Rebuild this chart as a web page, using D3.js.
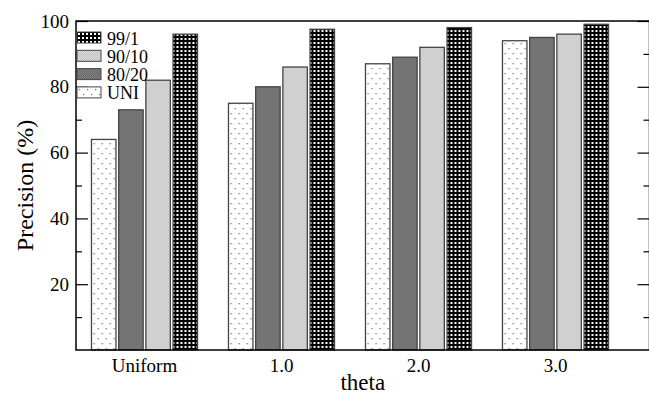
<!DOCTYPE html>
<html>
<head>
<meta charset="utf-8">
<script src="https://cdn.jsdelivr.net/npm/d3@7"></script>
<style>
  html, body { margin: 0; padding: 0; background: #fff; }
  svg { display: block; }
  text { font-family: "Liberation Serif", "Times New Roman", serif; fill: #000; }
</style>
</head>
<body>
<div id="chart"></div>
<script>
// Precision by theta for each traffic split
const categories = ["Uniform", "1.0", "2.0", "3.0"];
const seriesNames = ["UNI", "80/20", "90/10", "99/1"];
const uniValues = [64, 75, 87, 94];
const v8020Values = [73, 80, 89, 95];
const v9010Values = [82, 86, 92, 96];
const v991Values = [96, 97.5, 98, 99];
const yTicks = [20, 40, 60, 80, 100];
const legendOrder = ["99/1", "90/10", "80/20", "UNI"];

const series = [uniValues, v8020Values, v9010Values, v991Values];

const W = 649, H = 395;
const margin = { left: 76, top: 21, right: -0.5, bottom: 45 };
const plotW = W - margin.left - margin.right;
const plotH = H - margin.top - margin.bottom;
const groupStep = 137;

const svg = d3.select("#chart").append("svg")
  .attr("width", W).attr("height", H);

const defs = svg.append("defs");

// Fill patterns for the four series
function addPattern(id, w, h, draw) {
  const p = defs.append("pattern")
    .attr("id", id).attr("patternUnits", "userSpaceOnUse")
    .attr("width", w).attr("height", h);
  draw(p);
}
addPattern("pat-uni", 8, 10, p => {
  p.append("rect").attr("width", 8).attr("height", 10).attr("fill", "#fff");
  p.append("rect").attr("x", 2).attr("y", 2).attr("width", 1.3).attr("height", 1.3).attr("fill", "#777");
  p.append("rect").attr("x", 6).attr("y", 7).attr("width", 1.3).attr("height", 1.3).attr("fill", "#777");
});
addPattern("pat-8020", 2, 2, p => {
  p.append("rect").attr("width", 2).attr("height", 2).attr("fill", "#b0b0b0");
  p.append("rect").attr("x", 0).attr("y", 0).attr("width", 1).attr("height", 1).attr("fill", "#383838");
  p.append("rect").attr("x", 1).attr("y", 1).attr("width", 1).attr("height", 1).attr("fill", "#383838");
});
addPattern("pat-9010", 2, 2, p => {
  p.append("rect").attr("width", 2).attr("height", 2).attr("fill", "#fff");
  p.append("rect").attr("x", 0).attr("y", 0).attr("width", 1).attr("height", 1).attr("fill", "#a0a0a0");
  p.append("rect").attr("x", 1).attr("y", 1).attr("width", 1).attr("height", 1).attr("fill", "#a0a0a0");
});
addPattern("pat-991", 4, 4, p => {
  p.append("rect").attr("width", 4).attr("height", 4).attr("fill", "#000");
  p.append("rect").attr("x", 1).attr("y", 1).attr("width", 2).attr("height", 2).attr("fill", "#fff");
});
const fills = {
  "UNI": "url(#pat-uni)",
  "80/20": "url(#pat-8020)",
  "90/10": "url(#pat-9010)",
  "99/1": "url(#pat-991)"
};

const g = svg.append("g").attr("transform", `translate(${margin.left},${margin.top})`);

const x0 = d3.scaleBand().domain(categories)
  .range([0, groupStep * categories.length])
  .paddingInner(0.226).paddingOuter(0.113);
const x1 = d3.scaleBand().domain(seriesNames).range([0, x0.bandwidth()]).paddingInner(0.1);
const y = d3.scaleLinear().domain([0, 100]).range([plotH, 0]);

// Bars
categories.forEach((cat, ci) => {
  const grp = g.append("g").attr("transform", `translate(${x0(cat)},0)`);
  seriesNames.forEach((name, si) => {
    const v = series[si][ci];
    grp.append("rect")
      .attr("x", x1(name))
      .attr("y", y(v))
      .attr("width", x1.bandwidth())
      .attr("height", plotH - y(v))
      .attr("fill", fills[name])
      .attr("stroke", "#444")
      .attr("stroke-width", 1.3);
  });
});

// Frame
g.append("rect").attr("x", 0).attr("y", 0).attr("width", plotW).attr("height", plotH)
  .attr("fill", "none").attr("stroke", "#000").attr("stroke-width", 1.5);

// Y axes: major ticks inward, minor ticks between
const minorTicks = d3.range(10, 100, 20);
g.append("g").call(d3.axisRight(y).tickValues(yTicks).tickSize(12).tickFormat(""))
  .call(a => a.select(".domain").remove());
g.append("g").call(d3.axisRight(y).tickValues(minorTicks).tickSize(6).tickFormat(""))
  .call(a => a.select(".domain").remove());
g.append("g").attr("transform", `translate(${plotW},0)`)
  .call(d3.axisLeft(y).tickValues(yTicks).tickSize(12).tickFormat(""))
  .call(a => a.select(".domain").remove());
g.append("g").attr("transform", `translate(${plotW},0)`)
  .call(d3.axisLeft(y).tickValues(minorTicks).tickSize(6).tickFormat(""))
  .call(a => a.select(".domain").remove());
g.selectAll(".tick line").attr("stroke", "#000").attr("stroke-width", 1.2);

// Y tick labels
g.append("g").call(d3.axisLeft(y).tickValues(yTicks).tickSize(0).tickPadding(7))
  .call(a => a.select(".domain").remove())
  .selectAll("text").style("font-size", "19px").style("font-family", "Liberation Serif");

// X tick labels
g.append("g").attr("transform", `translate(0,${plotH})`)
  .call(d3.axisBottom(x0).tickSize(0).tickPadding(9))
  .call(a => a.select(".domain").remove())
  .selectAll("text").style("font-size", "19px").style("font-family", "Liberation Serif");

// Axis titles
svg.append("text")
  .attr("transform", `translate(33,${margin.top + plotH / 2}) rotate(-90)`)
  .attr("text-anchor", "middle")
  .style("font-size", "24px")
  .text("Precision (%)");
svg.append("text")
  .attr("x", margin.left + plotW / 2).attr("y", 390)
  .attr("text-anchor", "middle")
  .style("font-size", "23px")
  .text("theta");

// Legend
const leg = svg.append("g").attr("transform", "translate(77,32)");
legendOrder.forEach((name, i) => {
  const row = leg.append("g").attr("transform", `translate(0,${i * 18.3})`);
  row.append("rect").attr("width", 24).attr("height", 11)
    .attr("fill", fills[name]).attr("stroke", "#444").attr("stroke-width", 1);
  row.append("text").attr("x", 30).attr("y", 12.5)
    .style("font-size", "18px").text(name);
});
</script>
</body>
</html>
